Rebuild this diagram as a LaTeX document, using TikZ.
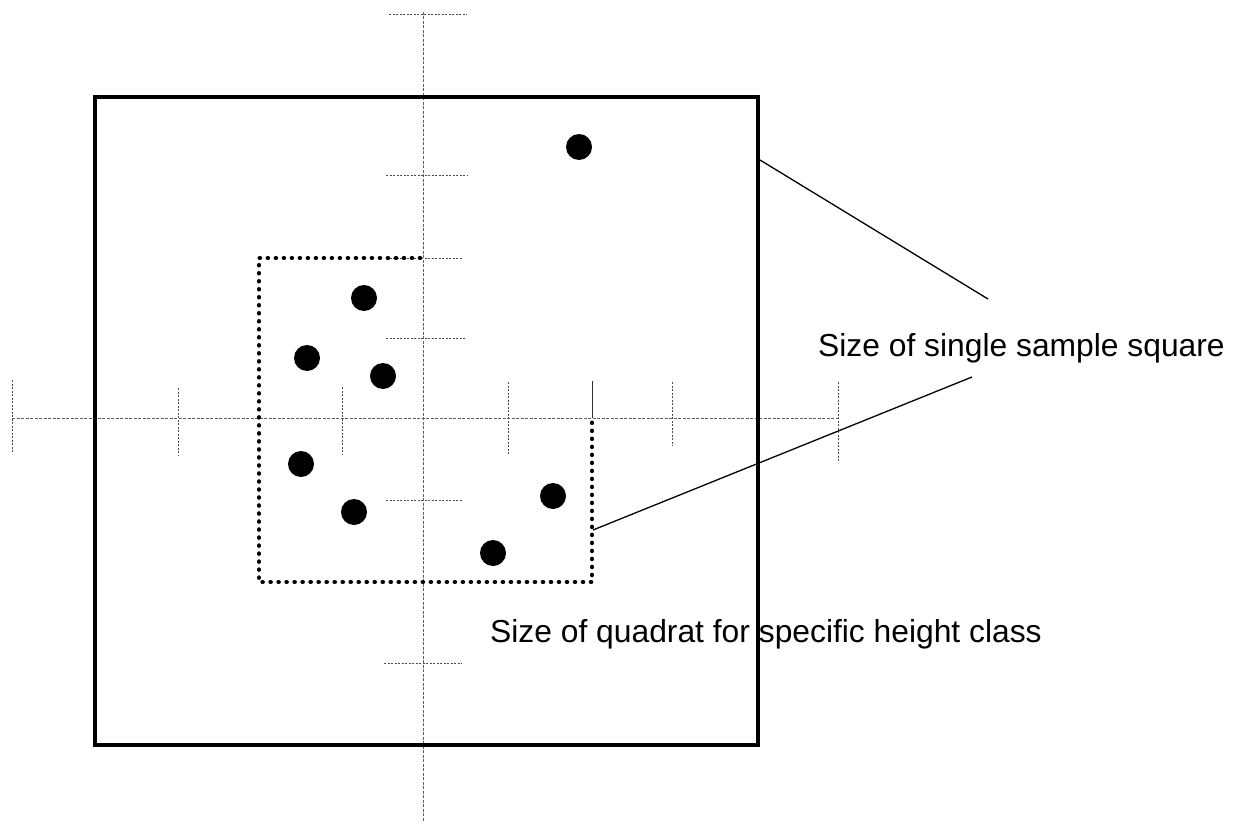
\documentclass[tikz,border=0pt]{standalone}
\usepackage{fontspec}
\setmainfont{Liberation Sans}
\begin{document}
\begin{tikzpicture}[x=1pt,y=-1pt,
  axisline/.style={gray!75!black, line width=0.7pt, dash pattern=on 3pt off 1.5pt},
  tickline/.style={gray!60!black, line width=0.6pt, dash pattern=on 2pt off 1.5pt},
  frameline/.style={line width=3.6pt, line join=miter},
  quadline/.style={line width=4.6pt, line cap=round, dash pattern=on 0.01pt off 8pt},
  sample/.style={circle, fill=black, minimum size=26pt, inner sep=0pt},
  lab/.style={font=\fontsize{31.8}{36}\selectfont, inner sep=0pt, anchor=base west},
  leadline/.style={line width=1.3pt}]
\useasboundingbox (0,0) rectangle (1237,824);

% axes
\coordinate (hL) at (12,418);
\coordinate (hR) at (838,418);
\coordinate (vT) at (423,12);
\coordinate (vB) at (423,822);
\draw[axisline] (hL) -- (hR);
\draw[axisline] (vT) -- (vB);

% ticks on horizontal axis
\foreach \x/\a/\b in {12/380/453, 178/388/455, 342/387/455, 508/382/455, 672/382/446, 838/382/462}
  \draw[tickline] (\x,\a) -- (\x,\b);
\draw[gray!40!black, line width=0.8pt] (592,381) -- (592,418);
% ticks on vertical axis
\foreach \y/\a/\b in {14/389/467, 175/386/467, 258/386/463, 338/386/465, 500/386/463, 663/384/462}
  \draw[tickline] (\a,\y) -- (\b,\y);

% labels
\node[lab] (single) at (818,356) {Size of single sample square};
\node[lab] (quadrat) at (490,642) {Size of quadrat for specific height class};

% sample square
\coordinate (sqTL) at (95,97);
\coordinate (sqBR) at (758,745);
\draw[frameline] (sqTL) rectangle (sqBR);

% quadrat (L-shaped dotted outline)
\coordinate (qA) at (420,258);
\coordinate (qB) at (259,258);
\coordinate (qC) at (259,582);
\coordinate (qD) at (592,582);
\coordinate (qE) at (592,420);
\draw[quadline] (qA) -- (qB) -- (qC) -- (qD) -- (qE);

% sample points
\node[sample] (d1) at (579,147) {};
\node[sample] (d2) at (364,298) {};
\node[sample] (d3) at (307,358) {};
\node[sample] (d4) at (383,376) {};
\node[sample] (d5) at (301,464) {};
\node[sample] (d6) at (354,512) {};
\node[sample] (d7) at (553,496) {};
\node[sample] (d8) at (493,553) {};

% leader lines
\coordinate (sqEdge) at (760,160);
\coordinate (singleEnd) at (988,299);
\coordinate (qEdge) at (593,530);
\coordinate (quadEnd) at (972,377);
\draw[leadline] (sqEdge) -- (singleEnd);
\draw[leadline] (qEdge) -- (quadEnd);
\end{tikzpicture}
\end{document}
